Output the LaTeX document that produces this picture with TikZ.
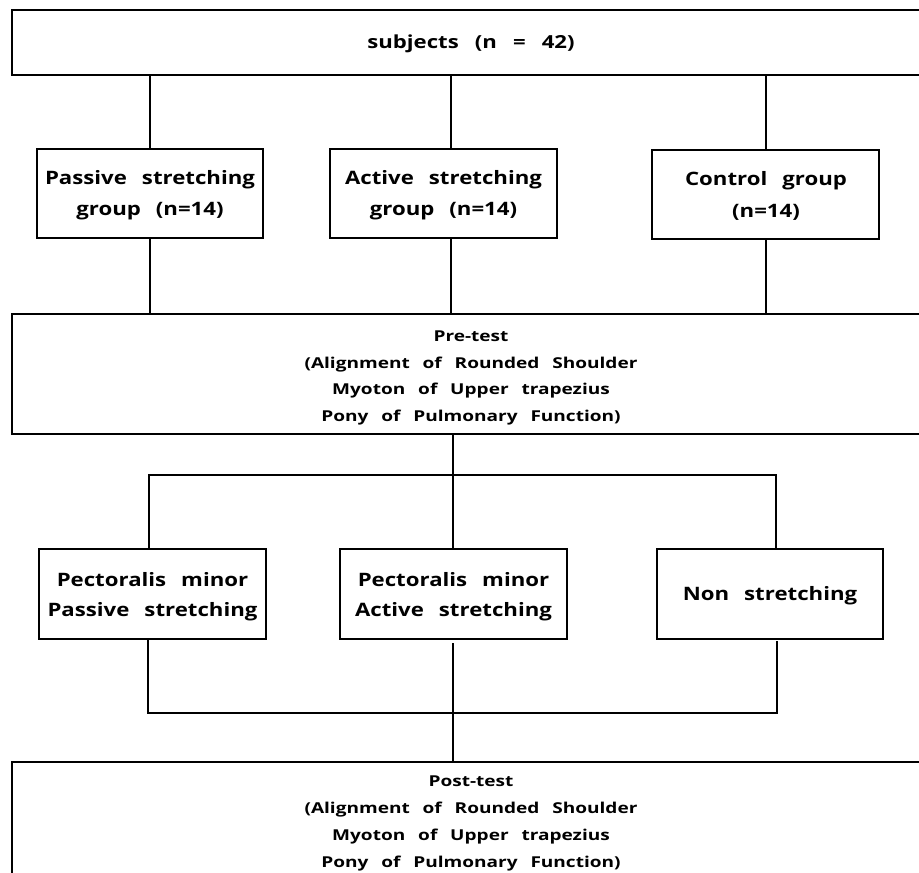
\documentclass[tikz,border=0pt]{standalone}
\usepackage{fontspec}
\setmainfont{Open Sans}
\newfontfamily\gfont{Open Sans}[FakeStretch=1.2, WordSpace=2.6]
\newfontfamily\pfont{Open Sans}[FakeStretch=1.27, WordSpace=2.6]
\newfontfamily\sfont{Open Sans}[FakeStretch=1.23, WordSpace=2.8]
\begin{document}
\begin{tikzpicture}[x=1pt,y=-1pt,
  box/.style={draw=black,line width=1.5pt,align=center,inner sep=0pt},
  gtext/.style={align=center,inner sep=0pt,font=\gfont\bfseries\fontsize{18.5}{31.5}\selectfont},
  ptext/.style={align=center,inner sep=0pt,font=\pfont\bfseries\fontsize{15}{26.8}\selectfont},
  conn/.style={line width=1.5pt}]
\useasboundingbox (0,0) rectangle (919,873);
\clip (0,0) rectangle (919,873);
% top box
\node[box,minimum width=918pt,minimum height=65pt] (subj) at (471,42.5) {};
\node[font=\sfont\bfseries\fontsize{18}{20}\selectfont,inner sep=0pt] (subjt) at (471,44) {subjects (n = 42)};
% group boxes
\node[box,minimum width=226pt,minimum height=89pt] (g1) at (150,193.5) {};
\node[box,minimum width=227pt,minimum height=89pt] (g2) at (443.5,193.5) {};
\node[box,minimum width=227pt,minimum height=89pt] (g3) at (765.5,194.5) {};
\node[gtext] (g1t) at (150,195) {Passive stretching\\group (n=14)};
\node[gtext] (g2t) at (443.5,195) {Active stretching\\group (n=14)};
\node[gtext] (g3t) at (766,196) {Control group\\(n=14)};
% pre-test
\node[box,minimum width=918pt,minimum height=120pt] (pre) at (471,374) {};
\node[ptext] (pret) at (471,378) {Pre-test\\(Alignment of Rounded Shoulder\\Myoton of Upper trapezius\\Pony of Pulmonary Function)};
% treatments
\node[box,minimum width=227pt,minimum height=90pt] (t1) at (152.5,594) {};
\node[box,minimum width=227pt,minimum height=90pt] (t2) at (453.5,594) {};
\node[box,minimum width=226pt,minimum height=90pt] (t3) at (770,594) {};
\node[gtext,font=\gfont\bfseries\fontsize{18.5}{30}\selectfont] (t1t) at (152.5,597) {Pectoralis minor\\Passive stretching};
\node[gtext,font=\gfont\bfseries\fontsize{18.5}{30}\selectfont] (t2t) at (453.5,597) {Pectoralis minor\\Active stretching};
\node[gtext] (t3t) at (770,596) {Non stretching};
% post-test
\node[box,minimum width=918pt,minimum height=140pt,anchor=north] (post) at (471,761) {};
\node[ptext,anchor=north] (postt) at (471,776) {Post-test\\(Alignment of Rounded Shoulder\\Myoton of Upper trapezius\\Pony of Pulmonary Function)};
% connectors top
\draw[conn] (subj.south -| 150,0) -- (g1.north -| 150,0);
\draw[conn] (subj.south -| 451,0) -- (g2.north -| 451,0);
\draw[conn] (subj.south -| 766,0) -- (g3.north -| 766,0);
\draw[conn] (g1.south -| 150,0) -- (pre.north -| 150,0);
\draw[conn] (g2.south -| 451,0) -- (pre.north -| 451,0);
\draw[conn] (g3.south -| 766,0) -- (pre.north -| 766,0);
% split
\coordinate (s) at (453,475);
\draw[conn] (pre.south -| s) -- (t2.north -| s);
\draw[conn] (t1.north -| 149,0) -- (149,475) -- (776,475) -- (t3.north -| 776,0);
% join
\coordinate (j) at (453,713);
\draw[conn] (t1.south -| 148,0) -- (148,713) -- (777,713) -- (777,641);
\draw[conn] (453,643) -- (post.north -| j);
\end{tikzpicture}
\end{document}
